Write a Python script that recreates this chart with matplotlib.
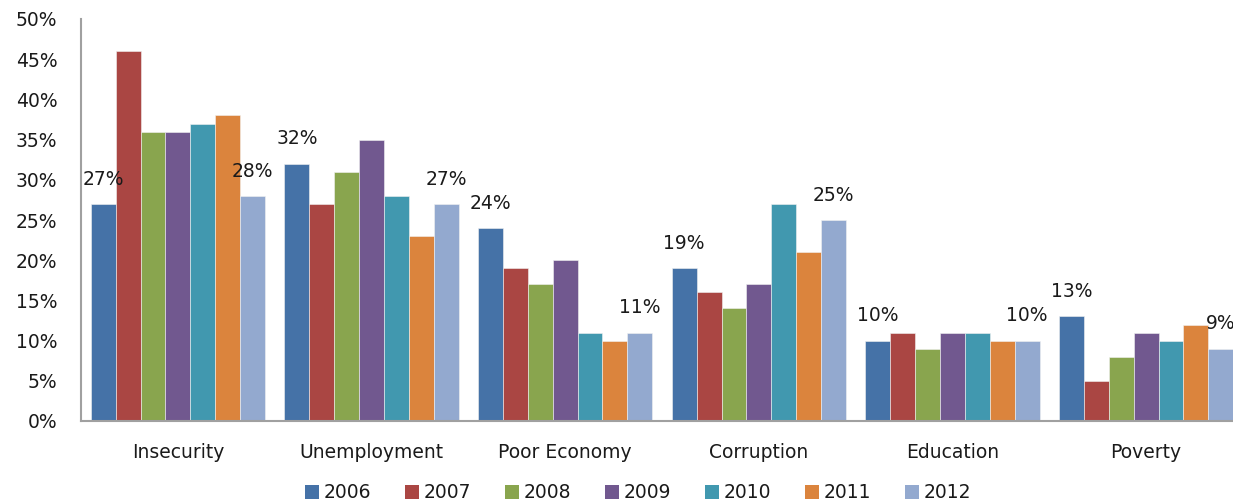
import matplotlib
matplotlib.use("Agg")
import matplotlib.pyplot as plt
import numpy as np
from matplotlib.patches import Patch

categories = ["Insecurity", "Unemployment", "Poor Economy", "Corruption", "Education", "Poverty"]
years = ["2006", "2007", "2008", "2009", "2010", "2011", "2012"]
v2006 = [27, 32, 24, 19, 10, 13]
v2007 = [46, 27, 19, 16, 11, 5]
v2008 = [36, 31, 17, 14, 9, 8]
v2009 = [36, 35, 20, 17, 11, 11]
v2010 = [37, 28, 11, 27, 11, 10]
v2011 = [38, 23, 10, 21, 10, 12]
v2012 = [28, 27, 11, 25, 10, 9]
series = [v2006, v2007, v2008, v2009, v2010, v2011, v2012]
colors = ["#4572A7", "#AA4643", "#89A54E", "#71588F", "#4198AF", "#DB843D", "#93A9CF"]
labeled = {0, 6}

W, H = 1233, 504
fig = plt.figure(figsize=(W / 100, H / 100), dpi=100)
ax = fig.add_axes([81 / W, 1 - 421 / H, (1243 - 81) / W, (421 - 19) / H])

FS = 13.5
txtc = "#1a1a1a"
x = np.arange(len(categories))
w = 0.1285
for i, (vals, col) in enumerate(zip(series, colors)):
    pos = x + (i - 3) * w
    ax.bar(pos, vals, width=w, color=col, edgecolor="#f2f2f2", linewidth=0.4, label=years[i])
    if i in labeled:
        for p, v in zip(pos, vals):
            ax.annotate(f"{v}%", (p, v), xytext=(0, 11), textcoords="offset points",
                        ha="center", va="bottom", fontsize=FS, color=txtc, clip_on=False)

ax.set_xlim(-0.5, len(categories) - 0.5)
ax.set_ylim(0, 50)
ax.set_yticks(np.arange(0, 51, 5))
ax.set_yticklabels([f"{t}%" for t in range(0, 51, 5)])
ax.set_xticks(x)
ax.set_xticklabels(categories)
ax.tick_params(axis="y", length=0, pad=17, labelsize=FS, labelcolor=txtc)
ax.tick_params(axis="x", length=0, pad=16, labelsize=FS, labelcolor=txtc)
for s in ["top", "right"]:
    ax.spines[s].set_visible(False)
for s in ["left", "bottom"]:
    ax.spines[s].set_color("#a0a0a0")
    ax.spines[s].set_linewidth(1.5)

handles = [Patch(facecolor=c, edgecolor="none") for c in colors]
fig.legend(handles, years, loc="center", bbox_to_anchor=(638 / W, 1 - 493 / H), ncol=7,
           frameon=False, fontsize=FS, handlelength=0.75, handleheight=0.75,
           handletextpad=0.2, columnspacing=1.85, labelcolor=txtc)

fig.savefig("out.png", dpi=100)
